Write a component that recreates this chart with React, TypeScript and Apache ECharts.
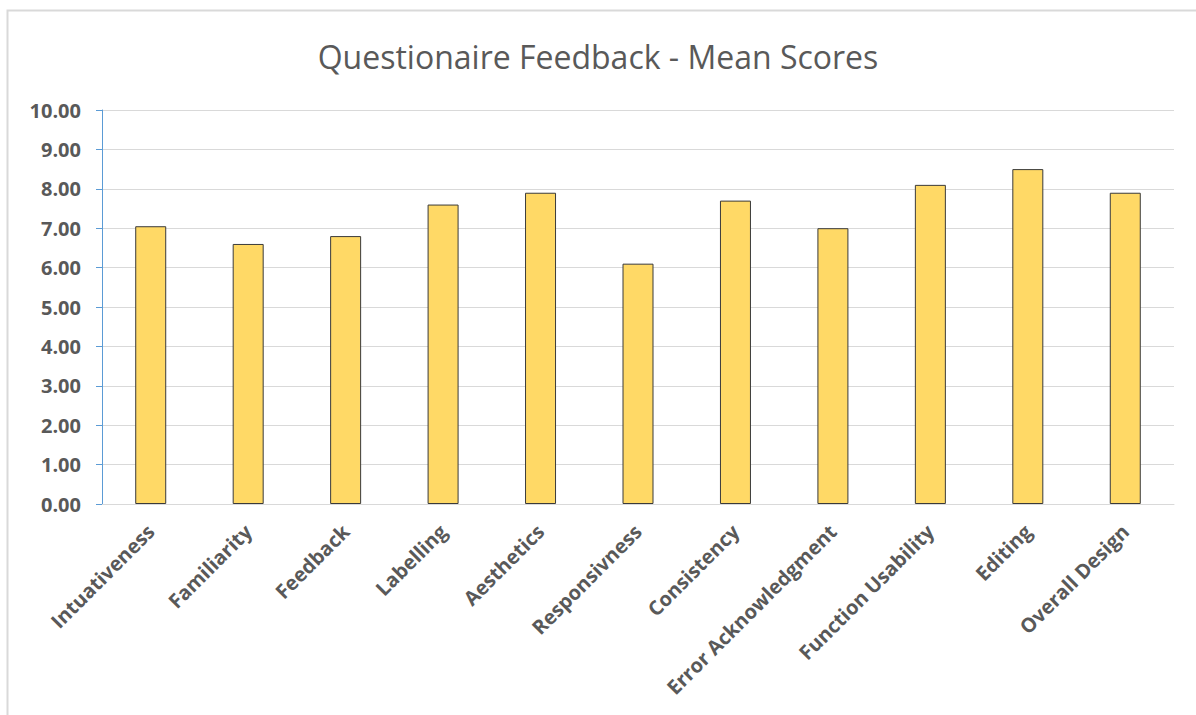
import React, { useEffect, useRef } from "react";
import * as echarts from "echarts";

const categories = [
  "Intuativeness",
  "Familiarity",
  "Feedback",
  "Labelling",
  "Aesthetics",
  "Responsivness",
  "Consistency",
  "Error Acknowledgment",
  "Function Usability",
  "Editing",
  "Overall Design",
];
const meanScores = [7.05, 6.6, 6.8, 7.6, 7.9, 6.1, 7.7, 7.0, 8.1, 8.5, 7.9];
const chartTitle = "Questionaire Feedback - Mean Scores";

export default function App() {
  const ref = useRef<HTMLDivElement>(null);
  useEffect(() => {
    if (!ref.current) return;
    const chart = echarts.init(ref.current, undefined, { renderer: "svg" });
    const font = "Open Sans, Noto Sans, sans-serif";
    chart.setOption({
      animation: false,
      backgroundColor: "#ffffff",
      graphic: [
        {
          type: "rect",
          shape: { x: 7.5, y: 10.5, width: 1400, height: 900 },
          style: { fill: "none", stroke: "#D9D9D9", lineWidth: 2 },
          silent: true,
        },
      ],
      title: {
        text: chartTitle,
        left: "center",
        top: 35,
        textStyle: {
          fontFamily: font,
          fontSize: 32,
          fontWeight: "normal",
          color: "#595959",
        },
      },
      grid: { left: 102, right: 22, top: 110, bottom: 211, containLabel: false },
      xAxis: {
        type: "category",
        data: categories,
        axisLine: { show: true, lineStyle: { color: "#D9D9D9", width: 1 } },
        axisTick: { show: false },
        axisLabel: {
          rotate: 45,
          interval: 0,
          margin: 24,
          color: "#595959",
          fontFamily: font,
          fontWeight: "bold",
          fontSize: 20,
        },
      },
      yAxis: {
        type: "value",
        min: 0,
        max: 10,
        interval: 1,
        axisLine: { show: true, lineStyle: { color: "#5B9BD5", width: 1 } },
        axisTick: { show: true, length: 6, lineStyle: { color: "#5B9BD5" } },
        splitLine: { show: true, lineStyle: { color: "#D9D9D9", width: 1 } },
        axisLabel: {
          formatter: (v: number) => v.toFixed(2),
          color: "#595959",
          fontFamily: font,
          fontWeight: "bold",
          fontSize: 20,
          margin: 21,
        },
      },
      series: [
        {
          type: "bar",
          data: meanScores,
          barWidth: 31,
          itemStyle: {
            color: "#FFD966",
            borderColor: "#3A3A3A",
            borderWidth: 1,
          },
        },
      ],
    });
    return () => chart.dispose();
  }, []);
  return (
    <div
      ref={ref}
      style={{ position: "fixed", left: 0, top: 0, width: 1196, height: 715 }}
    />
  );
}
